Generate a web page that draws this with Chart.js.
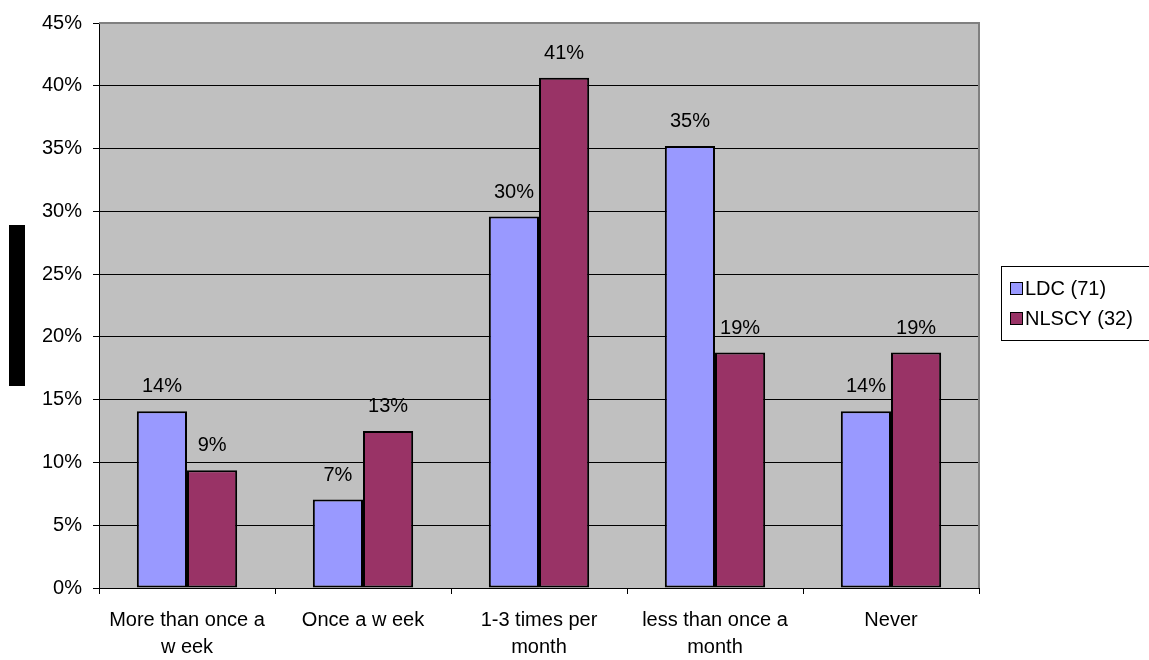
<!DOCTYPE html>
<html>
<head>
<meta charset="utf-8">
<script src="https://cdn.jsdelivr.net/npm/chart.js@4/dist/chart.umd.min.js"></script>
<style>
	html, body { margin: 0; padding: 0; background: #fff; }
	#wrap { position: relative; width: 1149px; height: 660px; }
</style>
</head>
<body>
<div id="wrap"><canvas id="chart" width="1149" height="660"></canvas></div>
<script>
// Data
const categories = [
	["More than once a", "w eek"],
	["Once a w eek"],
	["1-3 times per", "month"],
	["less than once a", "month"],
	["Never"],
];
const ldcValues = [14.08, 7.04, 29.58, 35.21, 14.08];
const nlscyValues = [9.38, 12.5, 40.63, 18.75, 18.75];
const seriesNames = ["LDC (71)", "NLSCY (32)"];
const seriesColors = ["#9999FF", "#993366"];

const FONT = "'Liberation Sans', Arial, sans-serif";
Chart.defaults.font.family = FONT;
Chart.defaults.color = "#000";

// gray plot background + frame, value labels, legend and the old axis title block
const excelLook = {
	id: "excelLook",
	beforeDraw(chart) {
		const { ctx, chartArea: a } = chart;
		ctx.save();
		ctx.fillStyle = "#fff";
		ctx.fillRect(0, 0, chart.width, chart.height);
		ctx.fillStyle = "#C0C0C0";
		ctx.fillRect(a.left, a.top, a.right - a.left, a.bottom - a.top);
		ctx.restore();
	},
	afterDatasetsDraw(chart) {
		const { ctx } = chart;
		ctx.save();
		ctx.font = "20px " + FONT;
		ctx.fillStyle = "#000";
		ctx.textAlign = "center";
		ctx.textBaseline = "alphabetic";
		chart.data.datasets.forEach((ds, i) => {
			chart.getDatasetMeta(i).data.forEach((bar, j) => {
				ctx.fillText(Math.round(ds.data[j]) + "%", bar.x, bar.y - 19);
			});
		});
		ctx.restore();
	},
	afterDraw(chart) {
		const { ctx, chartArea: a } = chart;
		ctx.save();
		// top / right frame in gray
		ctx.strokeStyle = "#808080";
		ctx.lineWidth = 2;
		ctx.beginPath();
		ctx.moveTo(a.left, a.top);
		ctx.lineTo(a.right, a.top);
		ctx.lineTo(a.right, a.bottom);
		ctx.stroke();

		// y title block
		ctx.fillStyle = "#000";
		ctx.fillRect(9, 225, 16, 161);

		// legend
		ctx.strokeStyle = "#000";
		ctx.lineWidth = 1;
		ctx.strokeRect(1001.5, 266.5, 170, 74);
		ctx.font = "20px " + FONT;
		ctx.textBaseline = "middle";
		ctx.textAlign = "left";
		const ys = [288, 318];
		seriesNames.forEach((name, i) => {
			ctx.fillStyle = seriesColors[i];
			ctx.fillRect(1010, ys[i] - 6, 12, 12);
			ctx.strokeRect(1010.5, ys[i] - 5.5, 12, 12);
			ctx.fillStyle = "#000";
			ctx.fillText(name, 1025, ys[i] + 1);
		});
		ctx.restore();
	},
};

new Chart(document.getElementById("chart").getContext("2d"), {
	type: "bar",
	data: {
		labels: categories,
		datasets: [
			{
				label: seriesNames[0],
				data: ldcValues,
				backgroundColor: seriesColors[0],
				borderColor: "#000",
				borderWidth: 2,
				borderSkipped: false,
			},
			{
				label: seriesNames[1],
				data: nlscyValues,
				backgroundColor: seriesColors[1],
				borderColor: "#000",
				borderWidth: 2,
				borderSkipped: false,
			},
		],
	},
	options: {
		responsive: false,
		animation: false,
		devicePixelRatio: 1,
		categoryPercentage: 0.57,
		barPercentage: 1,
		layout: { padding: { top: 20, right: 170, left: 0, bottom: 0 } },
		plugins: {
			legend: { display: false },
			tooltip: { enabled: false },
		},
		scales: {
			x: {
				offset: true,
				grid: {
					offset: true,
					drawOnChartArea: false,
					tickLength: 6,
					tickColor: "#000",
				},
				border: { color: "#000", width: 1 },
				ticks: {
					font: { size: 20, lineHeight: 1.35 },
					color: "#000",
					padding: 13,
					maxRotation: 0,
					autoSkip: false,
				},
				afterFit(scale) {
					scale.height = 72;
				},
			},
			y: {
				min: 0,
				max: 45,
				grid: {
					color: "#000",
					lineWidth: 1,
					tickLength: 6,
					tickColor: "#000",
				},
				border: { color: "#000", width: 1 },
				ticks: {
					stepSize: 5,
					font: { size: 20 },
					color: "#000",
					padding: 11,
					callback: (v) => v + "%",
				},
				afterFit(scale) {
					scale.width = 99;
				},
			},
		},
	},
	plugins: [excelLook],
});
</script>
</body>
</html>
